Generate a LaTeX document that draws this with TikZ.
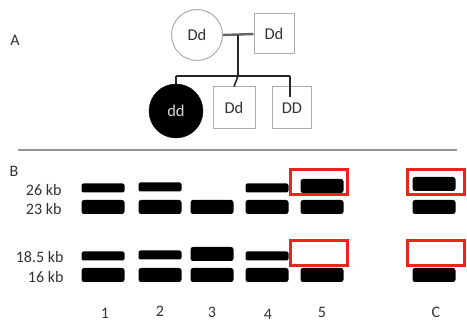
\documentclass[tikz,border=0pt]{standalone}
\usepackage{fontspec}
\setmainfont{Carlito}
\definecolor{inkgray}{RGB}{50,50,50}
\definecolor{boxred}{RGB}{232,38,30}
\usetikzlibrary{positioning}

\begin{document}
\begin{tikzpicture}[x=1pt, y=-1pt,
    every node/.style={text=inkgray},
    label/.style={font=\fontsize{16}{19}\selectfont},
    female/.style={circle, draw=gray!65, line width=1pt, minimum size=51pt, inner sep=0pt, font=\fontsize{16.5}{19}\selectfont},
    affected/.style={circle, fill=black, draw=black, minimum size=54pt, inner sep=0pt, text=white!85!black, font=\fontsize{16.5}{19}\selectfont},
    male/.style={rectangle, draw=gray!65, line width=1pt, minimum width=40pt, minimum height=40pt, inner sep=0pt, font=\fontsize{16.5}{19}\selectfont},
    thinband/.style={rectangle, fill=black, rounded corners=2pt, minimum width=43pt, minimum height=9pt, inner sep=0pt},
    thickband/.style={rectangle, fill=black, rounded corners=2.5pt, minimum width=43pt, minimum height=14pt, inner sep=0pt},
    hilite/.style={rectangle, draw=boxred, line width=3pt, minimum width=57pt, minimum height=25pt, inner sep=0pt},
    kb/.style={anchor=east, font=\fontsize{16}{19}\selectfont},
    lane/.style={font=\fontsize{16}{19}\selectfont}]
                \useasboundingbox (0,0) rectangle (467,326);

                % Panel A: pedigree
                \node[label] (labA) at (15,40) {A};
                \node[female] (mother) at (197,35) {Dd};
                \node[male] (father) at (274,34) {Dd};
                \node[affected] (child1) at (176,111) {dd};
                \node[male, minimum width=42pt, minimum height=42pt] (child2) at (234,108) {Dd};
                \node[male, minimum width=39pt, minimum height=42pt] (child3) at (292,108) {DD};

                % Mating and sibship lines
                \coordinate (mate) at (238,35);
                \coordinate (sibL) at (176,76);
                \coordinate (sibM) at (238,76);
                \coordinate (sibR) at (290,76);
                \coordinate (dropR) at (290,97);
                \draw[line width=2.4pt, black!60] (mother.east) -- (father.west);
                \draw[line width=1.6pt, black!85] (mate) -- (sibM);
                \draw[line width=1.6pt, black!85] (sibL) -- (sibR);
                \draw[line width=1.6pt, black!85] (sibL) -- (child1.north);
                \draw[line width=1.6pt, black!85] (sibM) -- (child2.north);
                \draw[line width=1.6pt, black!85] (sibR) -- (dropR);

                % Separator
                \coordinate (sepL) at (18,150);
                \coordinate (sepR) at (457,150);
                \draw[line width=1.6pt, gray!85] (sepL) -- (sepR);

                % Panel B: gel
                \node[label] (labB) at (14,171) {B};
                \node[kb] (k26) at (65,190) {26 kb};
                \node[kb] (k23) at (65,209) {23 kb};
                \node[kb] (k185) at (67,257) {18.5 kb};
                \node[kb] (k16) at (67,277) {16 kb};

                % Lane 1
                \node[thinband] (l1a) at (103,188) {};
                \node[thickband] (l1b) at (103,207) {};
                \node[thinband] (l1c) at (103,256) {};
                \node[thickband] (l1d) at (103,275) {};
                % Lane 2
                \node[thinband] (l2a) at (160,187) {};
                \node[thickband] (l2b) at (160,207) {};
                \node[thinband] (l2c) at (160,255) {};
                \node[thickband] (l2d) at (160,275) {};
                % Lane 3
                \node[thickband] (l3b) at (212,207) {};
                \node[thickband] (l3c) at (212,254) {};
                \node[thickband] (l3d) at (212,275) {};
                % Lane 4
                \node[thinband] (l4a) at (267,188) {};
                \node[thickband] (l4b) at (267,207) {};
                \node[thinband] (l4c) at (267,256) {};
                \node[thickband] (l4d) at (267,275) {};
                % Lane 5
                \node[thickband] (l5a) at (322,186) {};
                \node[thickband] (l5b) at (322,207) {};
                \node[thickband] (l5d) at (322,275) {};
                % Control
                \node[thickband] (lCa) at (434,184) {};
                \node[thickband] (lCb) at (434,207) {};
                \node[thickband] (lCd) at (434,275) {};

                % Highlight boxes
                \node[hilite] (h5a) at (318.5,182.5) {};
                \node[hilite] (h5c) at (318.5,253) {};
                \node[hilite] (hCa) at (436,182.5) {};
                \node[hilite] (hCc) at (436,253) {};

                % Lane numbers
                \foreach \n/\xx/\yy in {1/105/313, 2/160/311, 3/212/312, 4/268/314, 5/322/312, C/436/312}
                    \node[lane] (num\n) at (\xx,\yy) {\n};
            \end{tikzpicture}
\end{document}
